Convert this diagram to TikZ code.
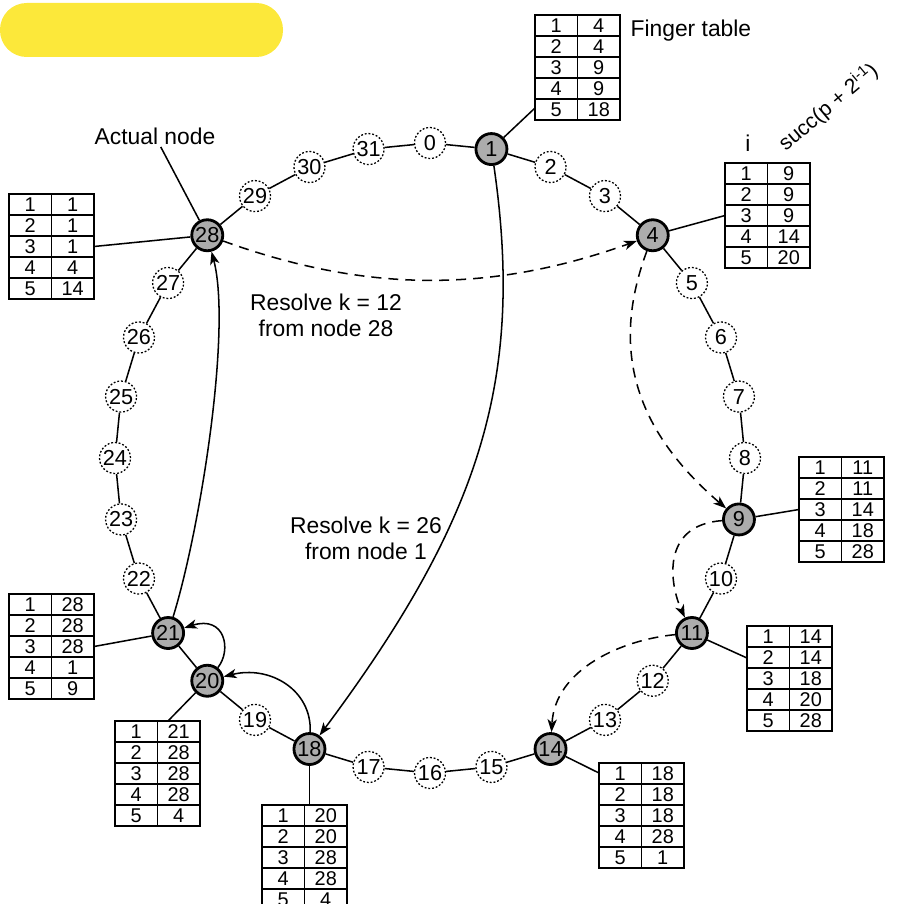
\documentclass[tikz,border=0pt]{standalone}
\usepackage{fontspec}
\setmainfont{Liberation Sans}
\usetikzlibrary{arrows.meta,calc}
\definecolor{hl}{RGB}{252,232,58}
\definecolor{ngray}{RGB}{172,172,172}
\tikzset{
  real/.style={circle, draw, line width=2.4pt, fill=ngray, minimum size=0.93cm, inner sep=0pt,
    font=\fontsize{18.5}{20}\selectfont},
  virt/.style={circle, draw, line width=1.1pt, dash pattern=on 1.6pt off 1.6pt, fill=white,
    minimum size=0.93cm, inner sep=0pt, font=\fontsize{18.5}{20}\selectfont},
  ring/.style={line width=1.3pt},
  tbox/.style={draw, line width=1.3pt, minimum width=2.55cm, minimum height=3.15cm, inner sep=0pt, outer sep=0pt},
  tline/.style={line width=1.3pt},
  tnum/.style={inner sep=0pt, font=\fontsize{17}{18}\selectfont},
  lbl/.style={inner sep=2pt, font=\fontsize{19.5}{22}\selectfont},
  dlink/.style={line width=1.3pt, dash pattern=on 8.5pt off 6pt, -{Stealth[length=11pt,width=8pt,inset=3pt]}},
  slink/.style={line width=1.3pt, -{Stealth[length=11pt,width=8pt,inset=3pt]}}
}
\newcommand{\ftab}[4]{%
  \node[tbox,anchor=north west] (#1) at (#2,#3) {};
  \draw[tline] ($(#1.north west)+(42.5,0)$) -- ($(#1.south west)+(42.5,0)$);
  \foreach \v [count=\rr] in {#4} {
    \node[tnum] at ($(#1.north west)+(21.25,21*\rr-10.5)$) {\rr};
    \node[tnum] at ($(#1.north west)+(63.75,21*\rr-10.5)$) {\v};
  }
  \foreach \rr in {1,...,4} \draw[tline] ($(#1.north west)+(0,21*\rr)$) -- ++(85,0);
}
\begin{document}
\begin{tikzpicture}[x=0.03cm, y=-0.03cm]
\useasboundingbox (0,0) rectangle (899,904);
% highlight
\fill[hl, rounded corners=0.8cm] (0,3) rectangle (283,57);
% ring positions
\foreach \i in {0,...,31} {
  \pgfmathsetmacro\ang{90-11.25*\i}
  \coordinate (p\i) at ({430+315*cos(\ang)},{458-315*sin(\ang)});
}
\foreach \i in {1,4,9,11,14,18,20,21,28} \node[real] (r\i) at (p\i) {\i};
\foreach \i in {0,2,3,5,6,7,8,10,12,13,15,16,17,19,22,23,24,25,26,27,29,30,31} \node[virt] (r\i) at (p\i) {\i};
\foreach \i [evaluate=\i as \j using {int(mod(\i+1,32))}] in {0,...,31} \draw[ring] (r\i) -- (r\j);
% finger tables
\ftab{t1}{535}{15}{4,4,9,9,18}
\ftab{t4}{725}{163}{9,9,9,14,20}
\ftab{t28}{9}{194}{1,1,1,4,14}
\ftab{t9}{799}{457}{11,11,14,18,28}
\ftab{t11}{747}{626}{14,14,18,20,28}
\ftab{t14}{599}{763}{18,18,18,28,1}
\ftab{t18}{262}{805}{20,20,28,28,4}
\ftab{t20}{115}{721}{21,28,28,28,4}
\ftab{t21}{9}{594}{28,28,28,1,9}
% table connectors
\draw[ring] (r1) -- ($(t1.north west)+(0,93)$);
\draw[ring] (r4) -- (t4.west);
\draw[ring] (r28) -- (t28.east);
\draw[ring] (r9) -- (t9.west);
\draw[ring] (r11) -- ($(t11.north west)+(0,32)$);
\draw[ring] (r14) -- ($(t14.north west)+(0,10)$);
\draw[ring] (r18) -- (r18 |- t18.north);
\draw[ring] (r20) -- ($(t20.north west)+(53,0)$);
\draw[ring] (r21) -- (t21.east);
% labels
\node[lbl, anchor=west] (ft) at (628,31) {Finger table};
\node[lbl] (actual) at (155,136) {Actual node};
\draw[ring] (actual) -- (r28);
\node[lbl, align=center] (res12) at (326,315) {Resolve k = 12\\from node 28};
\node[lbl, align=center] (res26) at (366,538) {Resolve k = 26\\from node 1};
\node[lbl] (ilbl) at (748,143) {i};
\node[lbl, rotate=40, anchor=base west, font=\fontsize{18}{20}\selectfont] (succ) at (784,153) {succ(p + 2\textsuperscript{i-1})};
% lookups
\draw[dlink] (r28) .. controls (367,293) and (491,293) .. (r4);
\draw[dlink] (r4) .. controls (610,350) and (635,430) .. (r9);
\draw[dlink] (r9) .. controls (660,525) and (670,585) .. (r11);
\draw[dlink] (r11) .. controls (620,640) and (555,670) .. (r14);
\draw[slink] (r1) .. controls (525,380) and (480,520) .. (r18);
\draw[slink] (r21) .. controls (200,530) and (232,330) .. (r28);
\draw[slink] (r20) .. controls (232,650) and (225,615) .. (r21);
\draw[slink] (r18) .. controls (312,690) and (270,665) .. (r20);
\end{tikzpicture}
\end{document}
